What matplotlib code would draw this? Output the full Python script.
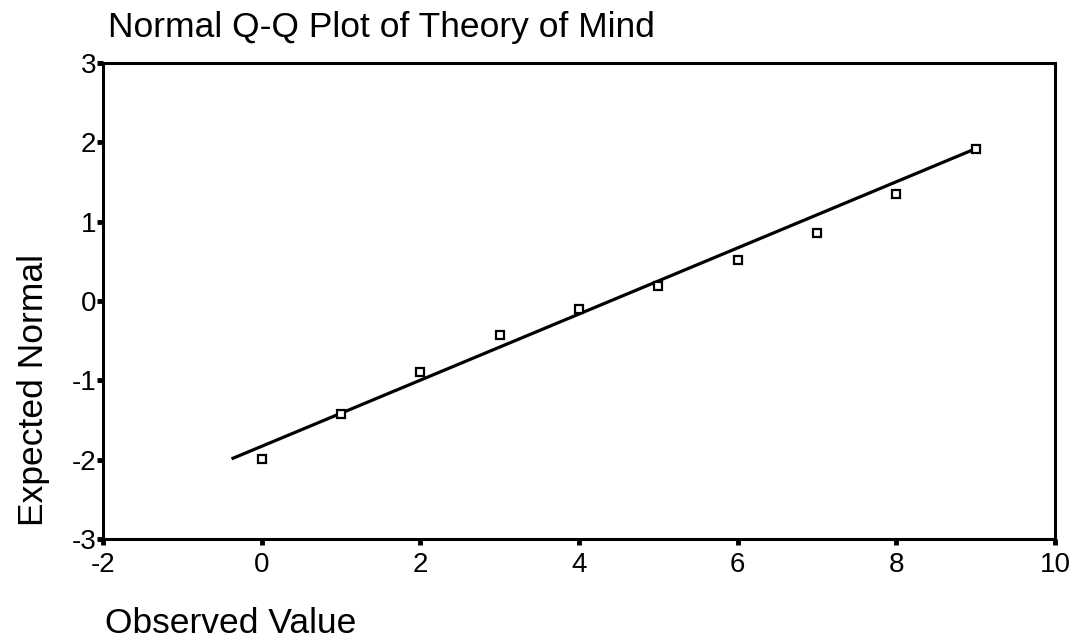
import matplotlib
matplotlib.use("Agg")
import matplotlib.pyplot as plt

plt.rcParams['font.family'] = ['Liberation Sans', 'DejaVu Sans']
plt.rcParams['axes.unicode_minus'] = False

observed = [0, 1, 2, 3, 4, 5, 6, 7, 8, 9]
expected = [-1.99, -1.43, -0.90, -0.43, -0.10, 0.19, 0.52, 0.86, 1.35, 1.92]
line_x = [-0.38, 9.0]
line_y = [-1.99, 1.92]
xticks = [-2, 0, 2, 4, 6, 8, 10]
yticks = [-3, -2, -1, 0, 1, 2, 3]

W, H = 1078, 644
fig = plt.figure(figsize=(W / 100, H / 100), dpi=100)
ax = fig.add_axes([103 / W, 1 - 539 / H, (1055 - 103) / W, (539 - 63) / H])

ax.plot(line_x, line_y, color='black', lw=2.3, solid_capstyle='butt')
ax.plot(observed, expected, linestyle='none', marker='s', markersize=6,
        markerfacecolor='white', markeredgecolor='black', markeredgewidth=1.6)

ax.set_xlim(-2, 10)
ax.set_ylim(-3, 3)
ax.set_xticks(xticks)
ax.set_yticks(yticks)
ax.tick_params(direction='out', length=4, width=3.5, labelsize=20)
ax.tick_params(axis='x', pad=5)
ax.tick_params(axis='y', pad=1)
for s in ax.spines.values():
    s.set_linewidth(2.2)

fig.text(108 / W, 1 - 37 / H, 'Normal Q-Q Plot of Theory of Mind', fontsize=25.5,
         ha='left', va='baseline')
fig.text(34 / W, 1 - 390 / H, 'Expected Normal', fontsize=25.5, rotation=90,
         ha='center', va='center')
fig.text(105 / W, 1 - 633 / H, 'Observed Value', fontsize=25.5,
         ha='left', va='baseline')

fig.savefig('out.png', dpi=100, facecolor='white')
